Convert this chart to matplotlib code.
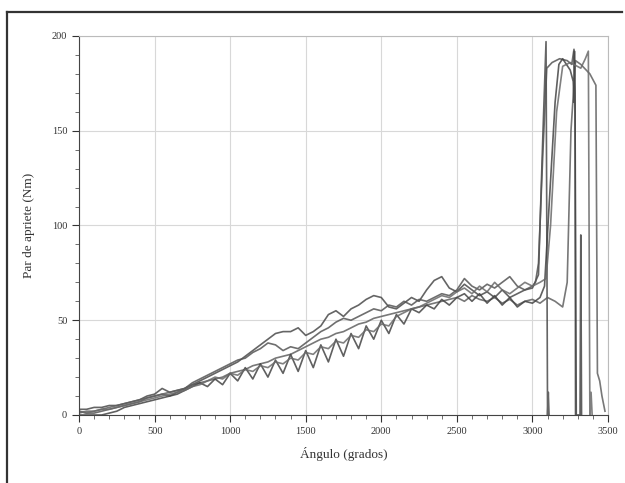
import numpy as np
import matplotlib
matplotlib.use('Agg')
import matplotlib.pyplot as plt
from matplotlib.lines import Line2D

plt.rcParams['font.family'] = ['Liberation Serif', 'DejaVu Serif']

# angle grid for the main part of each run
ang = np.arange(0, 3001, 50)

curve_a = [3, 3, 4, 4, 5, 5, 6, 7, 8, 10, 11, 14, 12, 13, 14, 16, 18, 20, 22, 24,
           26, 28, 31, 34, 37, 40, 43, 44, 44, 46, 42, 44, 47, 53, 55, 52, 56, 58, 61, 63,
           62, 57, 56, 59, 62, 60, 66, 71, 73, 67, 65, 69, 66, 63, 65, 62, 66, 62, 64, 66, 67]
curve_b = [2, 1, 1, 2, 3, 4, 5, 6, 7, 9, 10, 11, 10, 12, 14, 17, 19, 21, 23, 25,
           27, 29, 30, 33, 35, 38, 37, 34, 36, 35, 38, 41, 44, 46, 49, 51, 50, 52, 54, 56,
           55, 58, 57, 60, 58, 61, 60, 62, 64, 63, 66, 72, 68, 66, 69, 67, 70, 73, 68, 66, 68]
curve_c = [1, 2, 2, 3, 4, 5, 6, 7, 8, 9, 10, 11, 12, 13, 14, 16, 17, 18, 19, 20,
           22, 23, 24, 26, 27, 28, 30, 31, 32, 34, 36, 38, 40, 41, 43, 44, 46, 48, 49, 51,
           52, 53, 54, 55, 56, 57, 58, 59, 60, 61, 62, 60, 63, 61, 60, 62, 59, 61, 58, 60, 61]
curve_d = [0, 0, 0, 0, 1, 2, 4, 5, 6, 7, 8, 9, 10, 11, 13, 15, 17, 15, 19, 16,
           22, 18, 25, 19, 27, 20, 29, 22, 32, 23, 34, 25, 37, 28, 40, 31, 43, 35, 47, 40,
           50, 43, 53, 48, 56, 54, 58, 56, 61, 58, 62, 64, 60, 64, 59, 63, 58, 62, 57, 60, 59]
curve_e = [2, 1, 2, 3, 3, 4, 5, 6, 7, 8, 9, 10, 11, 12, 13, 15, 16, 18, 20, 19,
           22, 21, 24, 23, 26, 25, 28, 27, 30, 29, 33, 32, 36, 35, 39, 38, 42, 41, 45, 44,
           48, 47, 52, 54, 56, 57, 59, 61, 63, 62, 65, 67, 64, 68, 65, 70, 66, 64, 67, 70, 68]

# final tightening / release part
tail_a_x = [3040, 3070, 3090, 3095, 3100, 3105, 3110]
tail_a_y = [74, 150, 197, 100, 0, 12, 0]
tail_b_x = [3020, 3040, 3070, 3095, 3130, 3180, 3230, 3260, 3275, 3282, 3285]
tail_b_y = [70, 80, 140, 183, 186, 188, 187, 185, 193, 170, 0]
tail_c_x = [3050, 3100, 3150, 3200, 3230, 3255, 3285, 3320, 3380, 3420, 3430, 3445, 3460, 3480]
tail_c_y = [59, 62, 60, 57, 70, 150, 187, 185, 180, 174, 22, 18, 10, 2]
tail_d_x = [3050, 3080, 3110, 3150, 3175, 3200, 3250, 3270, 3275, 3278, 3282, 3290, 3315, 3320, 3325]
tail_d_y = [62, 68, 110, 165, 185, 188, 182, 176, 165, 192, 160, 0, 0, 95, 0]
tail_e_x = [3050, 3090, 3120, 3160, 3200, 3250, 3320, 3350, 3370, 3380, 3388, 3395]
tail_e_y = [70, 72, 100, 160, 184, 186, 183, 188, 192, 0, 12, 0]

runs = [(curve_a, tail_a_x, tail_a_y, '#4a4a4a'),
        (curve_b, tail_b_x, tail_b_y, '#555555'),
        (curve_c, tail_c_x, tail_c_y, '#606060'),
        (curve_d, tail_d_x, tail_d_y, '#444444'),
        (curve_e, tail_e_x, tail_e_y, '#6a6a6a')]

fig = plt.figure(figsize=(6.25, 4.83), dpi=100)
ax = fig.add_axes([0.1264, 0.1408, 0.8464, 0.7847])

for vals, tx, ty, col in runs:
    x = list(ang) + tx
    y = list(vals) + ty
    ax.plot(x, y, color=col, lw=1.2, alpha=0.85)

ax.set_xlim(0, 3500)
ax.set_ylim(0, 200)
ax.set_xticks(np.arange(0, 3501, 500))
ax.set_yticks(np.arange(0, 201, 50))
ax.set_xticks(np.arange(0, 3501, 100), minor=True)
ax.set_yticks(np.arange(0, 201, 10), minor=True)
ax.grid(True, which='major', color='#d8d8d8', lw=0.8)
ax.tick_params(which='major', direction='out', length=5, labelsize=7.5, colors='#333333')
ax.tick_params(which='minor', direction='out', length=3, color='#555555')
for s in ['top', 'right']:
    ax.spines[s].set_color('#bbbbbb')
for s in ['left', 'bottom']:
    ax.spines[s].set_color('#444444')

ax.set_xlabel('Ángulo (grados)', fontsize=9.5, color='#333333', labelpad=8)
ax.set_ylabel('Par de apriete (Nm)', fontsize=9.5, color='#333333', labelpad=12)

# scanned page frame
fig.add_artist(Line2D([0.0112, 0.0112], [0.0, 1 - 12 / 483], color='#333333', lw=1.6))
fig.add_artist(Line2D([0.0112, 0.995], [1 - 12 / 483, 1 - 12 / 483], color='#333333', lw=1.6))

fig.savefig('out.png', dpi=100)
